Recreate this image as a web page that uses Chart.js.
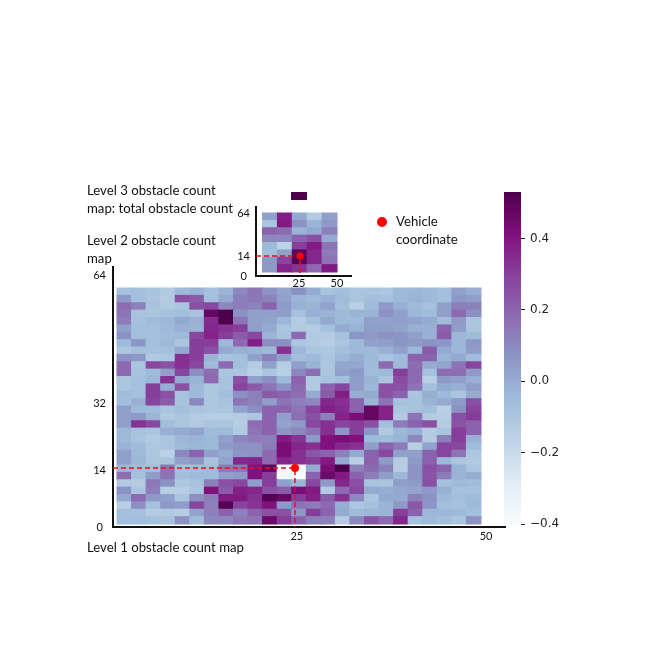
<!DOCTYPE html>
<html lang="en">
<head>
<meta charset="UTF-8">
<title>Obstacle count maps</title>
<script src="https://cdn.jsdelivr.net/npm/chart.js"></script>
<style>
    html, body { margin: 0; padding: 0; background: #fff; }
    #page { position: relative; width: 669px; height: 669px; overflow: hidden; }
    canvas { position: absolute; left: 0; top: 0; }
    .note { position: absolute; font-family: Lato, sans-serif; font-size: 13.2px; line-height: 17.5px; color: #111; white-space: nowrap; }
    #legendDot { position: absolute; left: 377px; top: 217px; width: 10px; height: 10px; border-radius: 50%; background: #ff0000; }
</style>
</head>
<body>
<div id="page">
    <canvas id="level1" width="669" height="669"></canvas>
    <canvas id="level2" width="669" height="669"></canvas>
    <canvas id="level3" width="669" height="669"></canvas>
    <canvas id="colorbar" width="669" height="669"></canvas>
    <div class="note" style="left:87px;top:182px">Level 3 obstacle count<br>map: total obstacle count</div>
    <div class="note" style="left:87px;top:232px">Level 2 obstacle count<br>map</div>
    <div class="note" style="left:87px;top:539px">Level 1 obstacle count map</div>
    <div class="note" style="left:396px;top:213px">Vehicle<br>coordinate</div>
    <div id="legendDot"></div>
</div>
<script>
// level 1 map, top row first, 25 columns x 32 rows
const level1Rows = [
    [-.08,-.07,-.09,-.12,-.05,-.03,-.08,-.03,.1,.15,.07,.02,.08,0,-.09,-.07,-.1,-.1,-.11,-.05,-.04,-.05,-.07,.03,-.01],
    [.05,-.07,-.1,-.13,.25,.22,-.08,0,.12,.14,.11,.03,-.03,-.05,-.02,-.06,-.1,-.07,-.08,-.05,-.03,-.05,-.07,.05,.03],
    [.17,.12,-.09,-.12,-.1,.25,.27,.1,.13,.11,.2,.05,-.02,-.03,.02,-.07,-.15,-.06,.05,-.02,-.05,-.08,.03,.12,.12],
    [.15,-.09,-.1,-.08,-.07,-.09,.47,.52,.08,.03,.03,.04,-.08,-.02,-.03,-.05,-.03,-.03,.07,.03,-.04,-.06,.03,.18,.08],
    [.13,-.08,-.06,-.04,.01,-.02,.34,.52,.15,.03,.02,-.04,-.13,-.07,0,-.05,-.05,.03,.03,.03,.02,0,-.06,.05,-.1],
    [.03,-.07,-.07,-.05,-.02,-.03,.35,.32,.3,.03,0,-.1,-.12,-.13,-.08,0,-.03,.04,.04,.02,-.02,-.02,.2,.04,-.1],
    [.07,-.07,-.07,-.06,-.05,.27,.36,.3,.22,.27,-.03,-.09,.18,-.12,-.13,-.08,.06,.05,.07,.06,.03,-.02,.22,-.04,-.06],
    [-.05,.06,-.07,-.05,-.1,.3,.3,-.05,.18,.37,.08,.08,-.1,-.12,-.14,-.1,-.05,.03,.04,.06,.05,.07,.06,-.04,.05],
    [-.11,-.08,-.08,-.07,.01,.3,.25,0,-.02,-.03,-.05,.33,-.04,-.1,-.11,-.07,-.05,-.05,-.02,.03,-.04,.22,0,-.04,.04],
    [.07,.05,-.12,-.11,.33,.3,-.03,-.09,-.07,.03,.12,.03,-.07,-.05,-.1,-.05,-.01,-.05,-.09,-.06,.2,.2,-.03,0,-.06],
    [.18,-.1,.27,.25,.33,.27,-.06,.18,-.07,-.13,.03,-.14,.03,-.03,-.11,.01,.01,-.06,.18,-.05,.17,0,.02,.15,.28],
    [.18,-.09,-.06,.03,.28,.08,.17,-.1,-.1,-.15,-.1,-.15,.1,.17,-.1,.03,.05,-.06,-.05,.3,.18,-.08,.17,.17,.05],
    [-.1,-.08,-.04,.32,0,-.03,.18,-.09,.25,.03,.08,-.05,.2,-.12,-.09,-.07,.04,-.03,-.1,.26,.18,-.15,.05,.03,-.02],
    [-.1,-.08,.3,-.01,.25,-.05,-.11,-.09,.28,.22,.15,.07,.18,-.12,.2,.27,.04,-.04,.25,.25,.15,-.07,0,-.02,.04],
    [-.06,-.07,.3,.25,-.09,-.05,-.11,-.07,.07,.12,.22,.2,.17,0,.22,.37,-.01,0,.25,.2,-.1,-.01,-.05,-.1,0],
    [-.07,-.02,.28,.22,-.09,.1,-.11,-.09,.15,.12,.04,.15,.12,.1,.35,.33,.2,-.03,.15,-.08,-.09,-.03,0,.05,.25],
    [.03,-.05,-.06,-.1,-.07,-.1,-.11,-.1,.02,.08,.2,.2,.15,.28,.37,.34,.2,.47,.36,-.1,-.09,-.07,-.15,.07,.28],
    [.03,.05,-.03,-.12,-.1,-.13,-.14,-.14,-.13,-.1,.2,.03,.17,.25,.12,.36,.42,.47,.36,-.12,.15,-.12,-.14,.25,.3],
    [.03,.32,.27,-.07,-.1,-.12,-.1,-.1,-.14,.17,.2,.02,.05,.27,.33,.28,.3,.25,-.07,.13,.2,.25,-.13,.24,.2],
    [-.05,-.09,-.1,-.02,0,.02,-.06,-.05,-.12,.15,.2,.06,.1,.16,.33,.06,.3,.06,-.12,-.04,-.02,-.13,-.1,.3,.2],
    [-.05,-.1,-.12,-.1,-.04,-.03,-.05,.03,.1,.13,.12,.38,.32,.05,.4,.42,.4,-.05,-.06,-.03,.1,-.13,.12,.3,-.02],
    [-.03,-.06,-.11,-.1,-.05,-.04,-.05,.05,.07,.07,.13,.42,.36,.33,.4,.35,.33,.03,.2,.13,-.15,.02,.28,.27,-.06],
    [.03,-.05,-.11,-.16,.1,.2,.03,0,.06,.07,.18,.42,.33,.23,.2,.12,0,.2,.27,.03,.03,.2,.28,.15,-.11],
    [.03,-.04,-.1,-.1,.03,.06,-.09,.02,.35,.35,.18,.36,.33,.3,.38,0,-.15,.2,.05,-.13,.05,.2,-.05,-.1,-.12],
    [-.04,-.07,-.07,.14,-.09,-.07,-.06,.14,.15,.4,.47,-.4,-.4,0,.42,.52,.12,.18,.12,-.14,.07,.25,.2,-.03,-.1],
    [.17,-.08,.04,.15,-.07,-.06,-.06,.03,.05,.4,.3,-.38,-.4,.2,.45,.38,.2,.13,.04,-.04,.07,.24,.13,-.03,-.01],
    [-.12,-.13,.14,.07,-.11,-.09,.12,.25,.27,.04,.3,.03,-.03,.27,.05,.35,.25,-.09,-.1,.04,.05,.25,-.08,-.05,-.06],
    [.07,-.1,.13,-.14,-.14,-.1,.4,.22,.37,.35,.25,.22,.42,.38,-.12,.18,.27,0,-.01,.01,.02,.05,-.02,-.08,-.08],
    [0,.18,.05,.03,-.1,.08,.13,.38,.38,.33,.5,.46,.3,.37,.22,.33,.1,-.1,0,0,.12,.07,-.05,-.07,-.06],
    [-.15,.08,-.08,.05,.04,.28,.12,.5,.28,.32,.4,.05,.15,.13,.18,-.01,-.11,-.08,-.03,.05,.23,.06,-.07,-.08,-.05],
    [-.07,-.08,-.13,-.12,-.14,.02,.12,.2,.12,.2,.25,.25,.05,.3,.2,0,-.06,-.04,-.03,.3,.2,-.04,-.04,-.05,-.07],
    [-.07,-.07,-.08,-.09,.07,-.06,.1,.1,.14,.15,.45,.3,.2,.12,.12,-.13,.1,.24,.18,.35,-.08,-.05,-.07,-.1,.07]
];
// level 2 map, top row first, 5 columns x 8 rows
const level2Rows = [
    [.03,.37,0,-.13,.03],
    [-.1,.38,.07,-.03,.05],
    [.2,.17,-.03,0,.12],
    [.1,.1,.2,.25,0],
    [-.05,-.17,.3,.38,.15],
    [-.07,.03,.48,.35,.13],
    [.05,.28,.5,.35,.15],
    [.05,.36,.32,.18,.38]
];
const level3Value = [.52];

const level1XTicks = [24.7, 50.7];
const level1XLabels = ['25', '50'];
const level1YTicks = [-0.8, 14.4, 32.8, 67.5];
const level1YLabels = ['0', '14', '32', '64'];
const level2XTicks = [24.5, 50];
const level2XLabels = ['25', '50'];
const level2YTicks = [-4.3, 17.4, 63];
const level2YLabels = ['0', '14', '64'];
const colorbarTicks = [-0.4, -0.2, 0, 0.2, 0.4];

const level1Vehicle = [24.45, 15.2];
const level2Vehicle = [25.2, 17.4];

// BuPu colour map between -0.4 and 0.52
const colorMin = -0.4, colorMax = 0.52;
const buPu = ['#f7fcfd', '#e0ecf4', '#bfd3e6', '#9ebcda', '#8c96c6', '#8c6bb1', '#88419d', '#810f7c', '#4d004b'];

function hexToRgb(h) {
    return [1, 3, 5].map(i => parseInt(h.substr(i, 2), 16));
}
function colorFor(v) {
    let t = (v - colorMin) / (colorMax - colorMin);
    t = Math.min(Math.max(t, 0), 1) * (buPu.length - 1);
    const i = Math.min(Math.floor(t), buPu.length - 2);
    const a = hexToRgb(buPu[i]), b = hexToRgb(buPu[i + 1]);
    const c = a.map((x, k) => Math.round(x + (b[k] - x) * (t - i)));
    return 'rgb(' + c.join(',') + ')';
}

// one floating bar per cell, cellW / cellH are in axis units
function cellData(rows, cellW, cellH) {
    const out = [];
    rows.forEach((row, r) => {
        const top = (rows.length - r) * cellH;
        row.forEach((v, c) => out.push({ x: (c + 0.5) * cellW, y: [top - cellH, top] }));
    });
    return out;
}
function cellDataset(rows, cellW, cellH) {
    return {
        type: 'bar',
        data: cellData(rows, cellW, cellH),
        backgroundColor: rows.flat().map(colorFor),
        borderWidth: 0,
        inflateAmount: 0.5,
        barPercentage: 1,
        categoryPercentage: 1,
        order: 2
    };
}
function dashLine(points) {
    return {
        type: 'scatter',
        data: points,
        showLine: true,
        borderColor: '#e8101a',
        borderWidth: 1.5,
        borderDash: [5, 3],
        pointRadius: 0,
        clip: false,
        order: 1
    };
}
function vehiclePoint(p, radius) {
    return {
        type: 'scatter',
        data: [{ x: p[0], y: p[1] }],
        backgroundColor: '#ff0000',
        borderWidth: 0,
        pointRadius: radius,
        order: 0
    };
}
function axis(min, max, ticks, labels, size, tickExtra) {
    return {
        type: 'linear',
        offset: false,
        min: min,
        max: max,
        afterBuildTicks: s => { s.ticks = ticks.map(v => ({ value: v })); },
        afterFit: s => { if (s.isHorizontal()) s.height = size; else s.width = size; },
        grid: { display: false, drawTicks: false, offset: false },
        border: { display: true, color: '#111', width: 2 },
        ticks: Object.assign({
            autoSkip: false,
            maxRotation: 0,
            color: '#111',
            font: { family: 'Lato', size: 11 },
            callback: (v, i) => labels[i]
        }, tickExtra || {})
    };
}
const baseOptions = {
    responsive: false,
    animation: false,
    events: [],
    plugins: { legend: { display: false }, tooltip: { enabled: false } }
};

// level 1
new Chart(document.getElementById('level1'), {
    data: {
        datasets: [
            cellDataset(level1Rows, 2, 2),
            dashLine([{ x: -0.55, y: level1Vehicle[1] }, { x: level1Vehicle[0], y: level1Vehicle[1] }, { x: level1Vehicle[0], y: -0.81 }]),
            vehiclePoint(level1Vehicle, 4)
        ]
    },
    options: Object.assign({}, baseOptions, {
        layout: { padding: { left: 73, top: 267, right: 164, bottom: 122 } },
        scales: {
            x: axis(-0.55, 53.3, level1XTicks, level1XLabels, 20),
            y: axis(-0.81, 69.7, level1YTicks, level1YLabels, 40, { crossAlign: 'center', padding: 7 })
        }
    })
});

// level 2 inset
new Chart(document.getElementById('level2'), {
    data: {
        datasets: [
            cellDataset(level2Rows, 10, 8),
            dashLine([{ x: -4.36, y: level2Vehicle[1] }, { x: level2Vehicle[0], y: level2Vehicle[1] }, { x: level2Vehicle[0], y: -4.34 }]),
            vehiclePoint(level2Vehicle, 3.5)
        ]
    },
    options: Object.assign({}, baseOptions, {
        layout: { padding: { left: 216, top: 207, right: 318, bottom: 373 } },
        scales: {
            x: axis(-4.36, 59.4, level2XTicks, level2XLabels, 20, { padding: 1 }),
            y: axis(-4.34, 70.5, level2YTicks, level2YLabels, 40, { crossAlign: 'center', padding: 6 })
        }
    })
});

// level 3, single cell
new Chart(document.getElementById('level3'), {
    type: 'bar',
    data: {
        labels: ['total'],
        datasets: [{
            data: level3Value,
            backgroundColor: level3Value.map(colorFor),
            borderWidth: 0,
            barPercentage: 1,
            categoryPercentage: 1
        }]
    },
    options: Object.assign({}, baseOptions, {
        layout: { padding: { left: 291, top: 192, right: 362, bottom: 469 } },
        scales: {
            x: { display: false },
            y: { display: false, min: 0, max: level3Value[0] }
        }
    })
});

// colour bar
new Chart(document.getElementById('colorbar'), {
    type: 'bar',
    data: {
        labels: ['scale'],
        datasets: [{
            data: [[-0.4, 0.53]],
            backgroundColor: ctx => {
                const area = ctx.chart.chartArea;
                if (!area) return buPu[4];
                const g = ctx.chart.ctx.createLinearGradient(0, area.bottom, 0, area.top);
                buPu.forEach((c, i) => g.addColorStop(i / (buPu.length - 1), c));
                return g;
            },
            borderWidth: 0,
            barPercentage: 1,
            categoryPercentage: 1
        }]
    },
    options: Object.assign({}, baseOptions, {
        layout: { padding: { left: 504, top: 192, right: 98, bottom: 145 } },
        scales: {
            x: { display: false },
            y: {
                position: 'right',
                min: -0.4,
                max: 0.53,
                afterBuildTicks: s => { s.ticks = colorbarTicks.map(v => ({ value: v })); },
                afterFit: s => { s.width = 50; },
                grid: { drawOnChartArea: false, drawTicks: true, tickLength: 4, color: '#262626' },
                border: { display: false },
                ticks: {
                    autoSkip: false,
                    padding: 5,
                    color: '#262626',
                    font: { family: 'DejaVu Sans', size: 12 },
                    callback: v => v.toFixed(1).replace('-', '\u2212')
                }
            }
        }
    })
});
</script>
</body>
</html>
